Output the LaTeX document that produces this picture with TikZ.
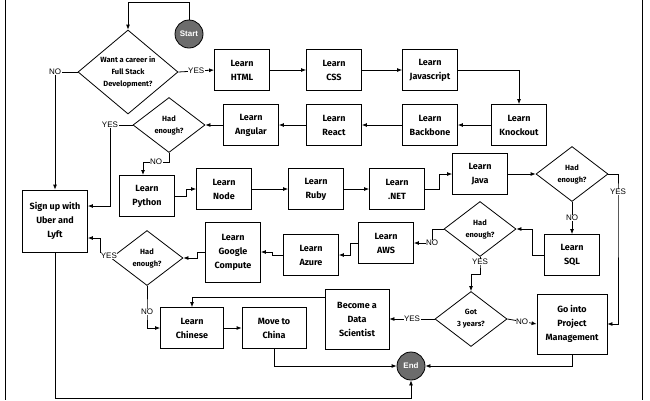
\documentclass[tikz,border=0pt]{standalone}
\usepackage{fontspec}
\setmainfont{Fira Sans}
\newfontfamily\lblfont{Liberation Sans}
\usetikzlibrary{shapes.geometric,arrows.meta}
\tikzset{
  pxgrid/.style={x=1pt,y=-1pt},
  box/.style={draw,thick,align=center,minimum width=55pt,minimum height=41pt,
    inner sep=1pt,font=\bfseries\fontsize{9}{14}\selectfont},
  ask/.style={draw,thick,diamond,minimum width=72pt,minimum height=55pt,inner sep=0pt,
    label={[align=center,font=\bfseries\fontsize{7.5}{12}\selectfont]center:#1}},
  term/.style={circle,draw,thick,fill=gray!85!black,minimum size=28pt,inner sep=0pt,
    text=white,font=\lblfont\bfseries\fontsize{8}{10}\selectfont},
  arr/.style={thick,-{Latex[length=5pt,width=4pt]}},
  yn/.style={fill=white,inner sep=0.5pt,font=\lblfont\fontsize{8}{10}\selectfont}
}
\begin{document}
\begin{tikzpicture}[pxgrid]
  \useasboundingbox (0,0) rectangle (650,400);
  % frame
  \draw[thick] (5,0) -- (5,400);
  \draw[thick] (642,0) -- (642,400);
  % nodes
  \node[term] (start) at (189,34) {Start};
  \node[ask={Want a career in\\Full Stack\\Development?},minimum width=100pt,minimum height=84pt] (career) at (128,72) {};
  \node[box] (html) at (242,70) {Learn\\HTML};
  \node[box] (css) at (334,70) {Learn\\CSS};
  \node[box] (js) at (430,70) {Learn\\Javascript};
  \node[box] (knock) at (519,125) {Learn\\Knockout};
  \node[box] (backb) at (430,125) {Learn\\Backbone};
  \node[box] (react) at (334,125) {Learn\\React};
  \node[box] (angular) at (251,125) {Learn\\Angular};
  \node[ask={Had\\enough?}] (enoughA) at (169,125) {};
  \node[box] (python) at (147,196) {Learn\\Python};
  \node[box] (nodejs) at (224,189) {Learn\\Node};
  \node[box] (ruby) at (316,189) {Learn\\Ruby};
  \node[box] (dotnet) at (397,189) {Learn\\.NET};
  \node[box] (java) at (480,174) {Learn\\Java};
  \node[ask={Had\\enough?}] (enoughB) at (572,174) {};
  \node[box] (sql) at (572,255) {Learn\\SQL};
  \node[ask={Had\\enough?}] (enoughC) at (480,229) {};
  \node[box] (aws) at (386,243) {Learn\\AWS};
  \node[box] (azure) at (311,255) {Learn\\Azure};
  \node[box,minimum height=60pt] (google) at (233,252) {Learn\\Google\\Compute};
  \node[ask={Had\\enough?}] (enoughD) at (147,258) {};
  \node[box,minimum width=65pt,minimum height=62pt] (uber) at (55,221) {Sign up with\\Uber and\\Lyft};
  \node[box,minimum width=63pt] (chinese) at (192,328) {Learn\\Chinese};
  \node[box,minimum width=64pt] (china) at (274,328) {Move to\\China};
  \node[box,minimum width=64pt,minimum height=60pt] (datasci) at (357,319) {Become a\\Data\\Scientist};
  \node[ask={Got\\3 years?}] (years) at (471,319) {};
  \node[box,minimum width=70pt,minimum height=60pt] (pm) at (572,324) {Go into\\Project\\Management};
  \node[term] (finish) at (411,366) {End};
  % connectors
  \draw[arr] (start.north) -- (189,2) -| (career.north);
  \draw[arr] (career.east) -- node[yn] {YES} (html.west);
  \draw[arr] (career.west) -- (55,72) node[yn] {NO} -- (uber.north);
  \draw[arr] (html) -- (css);
  \draw[arr] (css) -- (js);
  \draw[arr] (js.east) -| (knock.north);
  \draw[arr] (knock) -- (backb);
  \draw[arr] (backb) -- (react);
  \draw[arr] (react) -- (angular);
  \draw[arr] (angular) -- (enoughA.east);
  \draw[arr] (enoughA.west) -- (110,125) node[yn] {YES} -- (110,206) -- (uber.east |- 0,206);
  \draw[arr] (enoughA.south) -- (169,162) -- node[yn] {NO} (143,162) -- (143,175);
  \draw[arr] (python.east) -- (186,196) |- (nodejs.west);
  \draw[arr] (nodejs) -- (ruby);
  \draw[arr] (ruby) -- (dotnet);
  \draw[arr] (dotnet.east) -- (439,189) |- (java.west);
  \draw[arr] (java) -- (enoughB.west);
  \draw[arr] (enoughB.south) -- node[yn] {NO} (sql.north);
  \draw[arr] (enoughB.east) -- (618,174) -- (618,192) node[yn] {YES} |- (pm.east);
  \draw[arr] (sql.west) -- (532,255) |- (enoughC.east);
  \draw[arr] (enoughC.west) -- (432,229) -- (432,243) node[yn] {NO} -- (aws.east);
  \draw[arr] (enoughC.south) -- (480,262) node[yn] {YES} -- (480,274) -- (471,274) -- (years.north);
  \draw[arr] (aws.west) -- (350,243) |- (azure.east);
  \draw[arr] (azure.west) -- (272,255) |- (google.east);
  \draw[arr] (google.west) -- (197,252) |- (enoughD.east);
  \draw[arr] (enoughD.west) -- (100,258) -- (100,238) node[yn,pos=0.1,right] {YES} -- (uber.east |- 0,238);
  \draw[arr] (enoughD.south) -- (147,312) node[yn] {NO} |- (chinese.west);
  \draw[arr] (chinese) -- (china);
  \draw[arr] (datasci.west |- 0,297) -- (192,297) -- (chinese.north);
  \draw[arr] (years.west) -- node[yn] {YES} (datasci.east);
  \draw[arr] (years.east) -- node[yn] {NO} (pm.west);
  \draw[arr] (china.south) |- (finish.west);
  \draw[arr] (pm.south) |- (finish.east);
  \draw[arr] (uber.south) -- (55,398) -| (finish.south);
\end{tikzpicture}
\end{document}
